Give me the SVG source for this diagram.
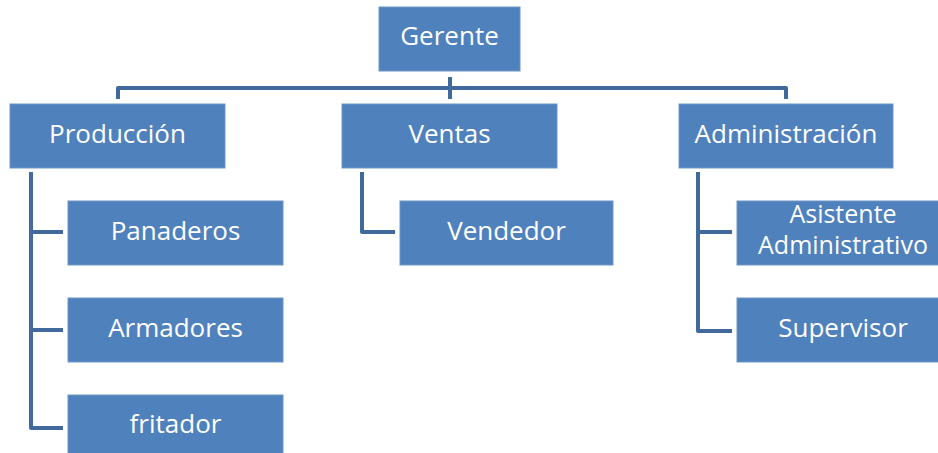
<svg xmlns="http://www.w3.org/2000/svg" width="938" height="453" viewBox="0 0 938 453">
<style>
.box{fill:#4F81BD;stroke:#6F95C6;stroke-width:1}
.lbl{fill:#FFFFFF;font-family:"Open Sans","Noto Sans","Liberation Sans",sans-serif;font-size:26px;text-anchor:middle}
.sm{font-size:25px}
.con{fill:none;stroke:#41699B;stroke-width:4;stroke-linejoin:round}
</style>
<rect width="938" height="453" fill="#FFFFFF"/>
<g id="connectors">
<path class="con" d="M118,99 V88 H786 V99"/>
<path class="con" d="M450,77 V99"/>
<path class="con" d="M31,172 V428 H63 M31,232 H63 M31,330 H63"/>
<path class="con" d="M362,172 V232 H395"/>
<path class="con" d="M698,172 V331 H732 M698,232 H732"/>
</g>
<g id="gerente"><rect class="box" x="379" y="7" width="141" height="64"/><text class="lbl" x="449.5" y="45">Gerente</text></g>
<g id="produccion"><rect class="box" x="10" y="104" width="215" height="64"/><text class="lbl" x="117.5" y="143">Producción</text></g>
<g id="ventas"><rect class="box" x="342" y="104" width="215" height="64"/><text class="lbl" x="449.5" y="143">Ventas</text></g>
<g id="administracion"><rect class="box" x="679" y="104" width="214" height="64"/><text class="lbl" x="786" y="143">Administración</text></g>
<g id="panaderos"><rect class="box" x="68" y="201" width="215" height="64"/><text class="lbl" x="175.5" y="240">Panaderos</text></g>
<g id="armadores"><rect class="box" x="68" y="298" width="215" height="64"/><text class="lbl" x="175.5" y="337">Armadores</text></g>
<g id="fritador"><rect class="box" x="68" y="395" width="215" height="64"/><text class="lbl" x="175.5" y="433">fritador</text></g>
<g id="vendedor"><rect class="box" x="400" y="201" width="213" height="64"/><text class="lbl" x="506.5" y="240">Vendedor</text></g>
<g id="asistente"><rect class="box" x="737" y="201" width="215" height="64"/><text class="lbl sm" x="843" y="223">Asistente</text><text class="lbl sm" x="843" y="254">Administrativo</text></g>
<g id="supervisor"><rect class="box" x="737" y="298" width="215" height="64"/><text class="lbl" x="843" y="337">Supervisor</text></g>
</svg>
